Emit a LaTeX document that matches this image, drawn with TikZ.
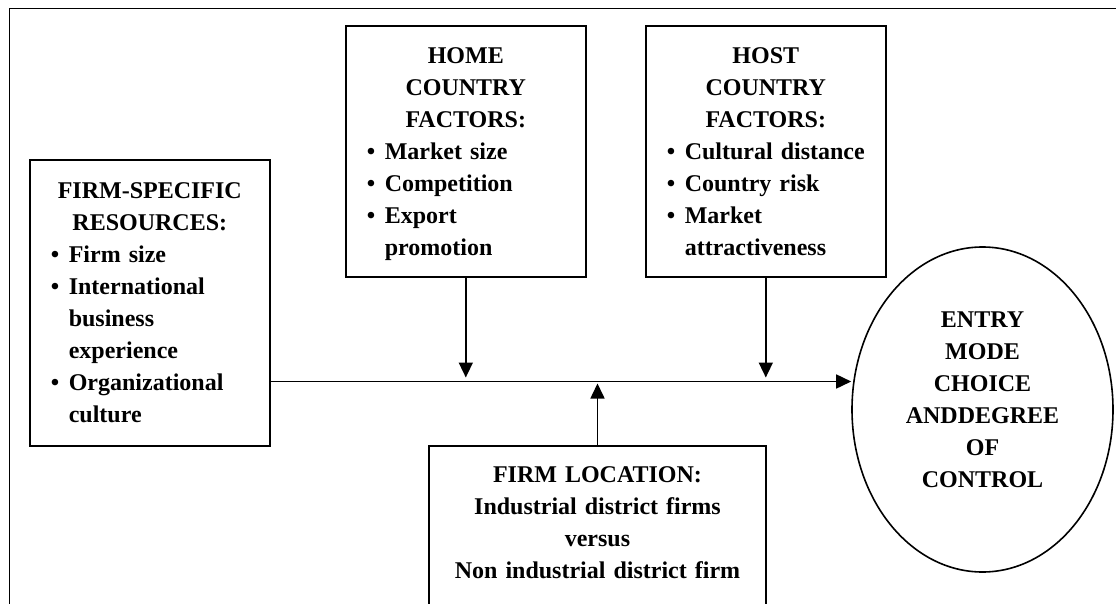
\documentclass[tikz,border=0pt]{standalone}
\usepackage{fontspec}
\setmainfont{Liberation Serif}
\usepackage{tikz}
\usetikzlibrary{arrows.meta}
\usetikzlibrary{shapes.geometric}
\setlength{\parindent}{0pt}
\setlength{\parskip}{0pt}
\newcommand{\boxhead}[1]{{\centering\mbox{#1}\par}}
\newcommand{\boxitem}[1]{\makebox[18pt][l]{\textbullet}\mbox{#1}\par}
\newcommand{\boxmore}[1]{\hspace*{18pt}\mbox{#1}\par}

\begin{document}
\begin{tikzpicture}[x=1pt,y=-1pt,
    every node/.style={font=\fontsize{24}{32}\selectfont\bfseries},
    factor/.style={draw,line width=1.6pt,anchor=north west,text width=198pt,
      inner xsep=21pt,inner ysep=0pt,align=left},
    conn/.style={line width=1.6pt,-{Triangle[length=15pt,width=14pt]}}]
    \useasboundingbox (0,0) rectangle (1116,604);
    \clip (0,0) rectangle (1116,604);
    % frame, open to the right and below
    \draw[line width=1.6pt] (1140,8.5) -- (9.5,8.5) -- (9.5,640);
    \node[factor,minimum height=286pt,text depth=224pt] (firm) at (29,159) {%
      \boxhead{FIRM-SPECIFIC}\boxhead{RESOURCES:}%
      \boxitem{Firm size}\boxitem{International}\boxmore{business}\boxmore{experience}%
      \boxitem{Organizational}\boxmore{culture}};
    \node[factor,minimum height=251pt,text depth=192pt] (home) at (345,25) {%
      \boxhead{HOME}\boxhead{COUNTRY}\boxhead{FACTORS:}%
      \boxitem{Market size}\boxitem{Competition}\boxitem{Export}\boxmore{promotion}};
    \node[factor,minimum height=251pt,text depth=192pt] (host) at (645,25) {%
      \boxhead{HOST}\boxhead{COUNTRY}\boxhead{FACTORS:}%
      \boxitem{Cultural distance}\boxitem{Country risk}\boxitem{Market}\boxmore{attractiveness}};
    \node[draw,line width=1.6pt,anchor=north,text width=300pt,inner xsep=18.5pt,
      inner ysep=21pt,text depth=118pt,align=center] (loc) at (597.5,445)
      {FIRM LOCATION:\\Industrial district firms\\versus\\Non industrial district firm};
    \node[draw,ellipse,line width=1.6pt,minimum width=261pt,minimum height=325pt,
      inner sep=0pt,text depth=20pt,align=center] (entry) at (982.5,409.5)
      {ENTRY\\MODE\\CHOICE\\ANDDEGREE\\OF\\CONTROL};
    \coordinate (axis) at (0,381.5);
    \draw[conn] (firm.east |- axis) -- (entry.west |- axis);
    \draw[conn,shorten >=4pt] (home.south) -- (home.south |- axis);
    \draw[conn,shorten >=4pt] (host.south) -- (host.south |- axis);
    \draw[conn,shorten >=2pt] (loc.north) -- (loc.north |- axis);
\end{tikzpicture}
\end{document}
